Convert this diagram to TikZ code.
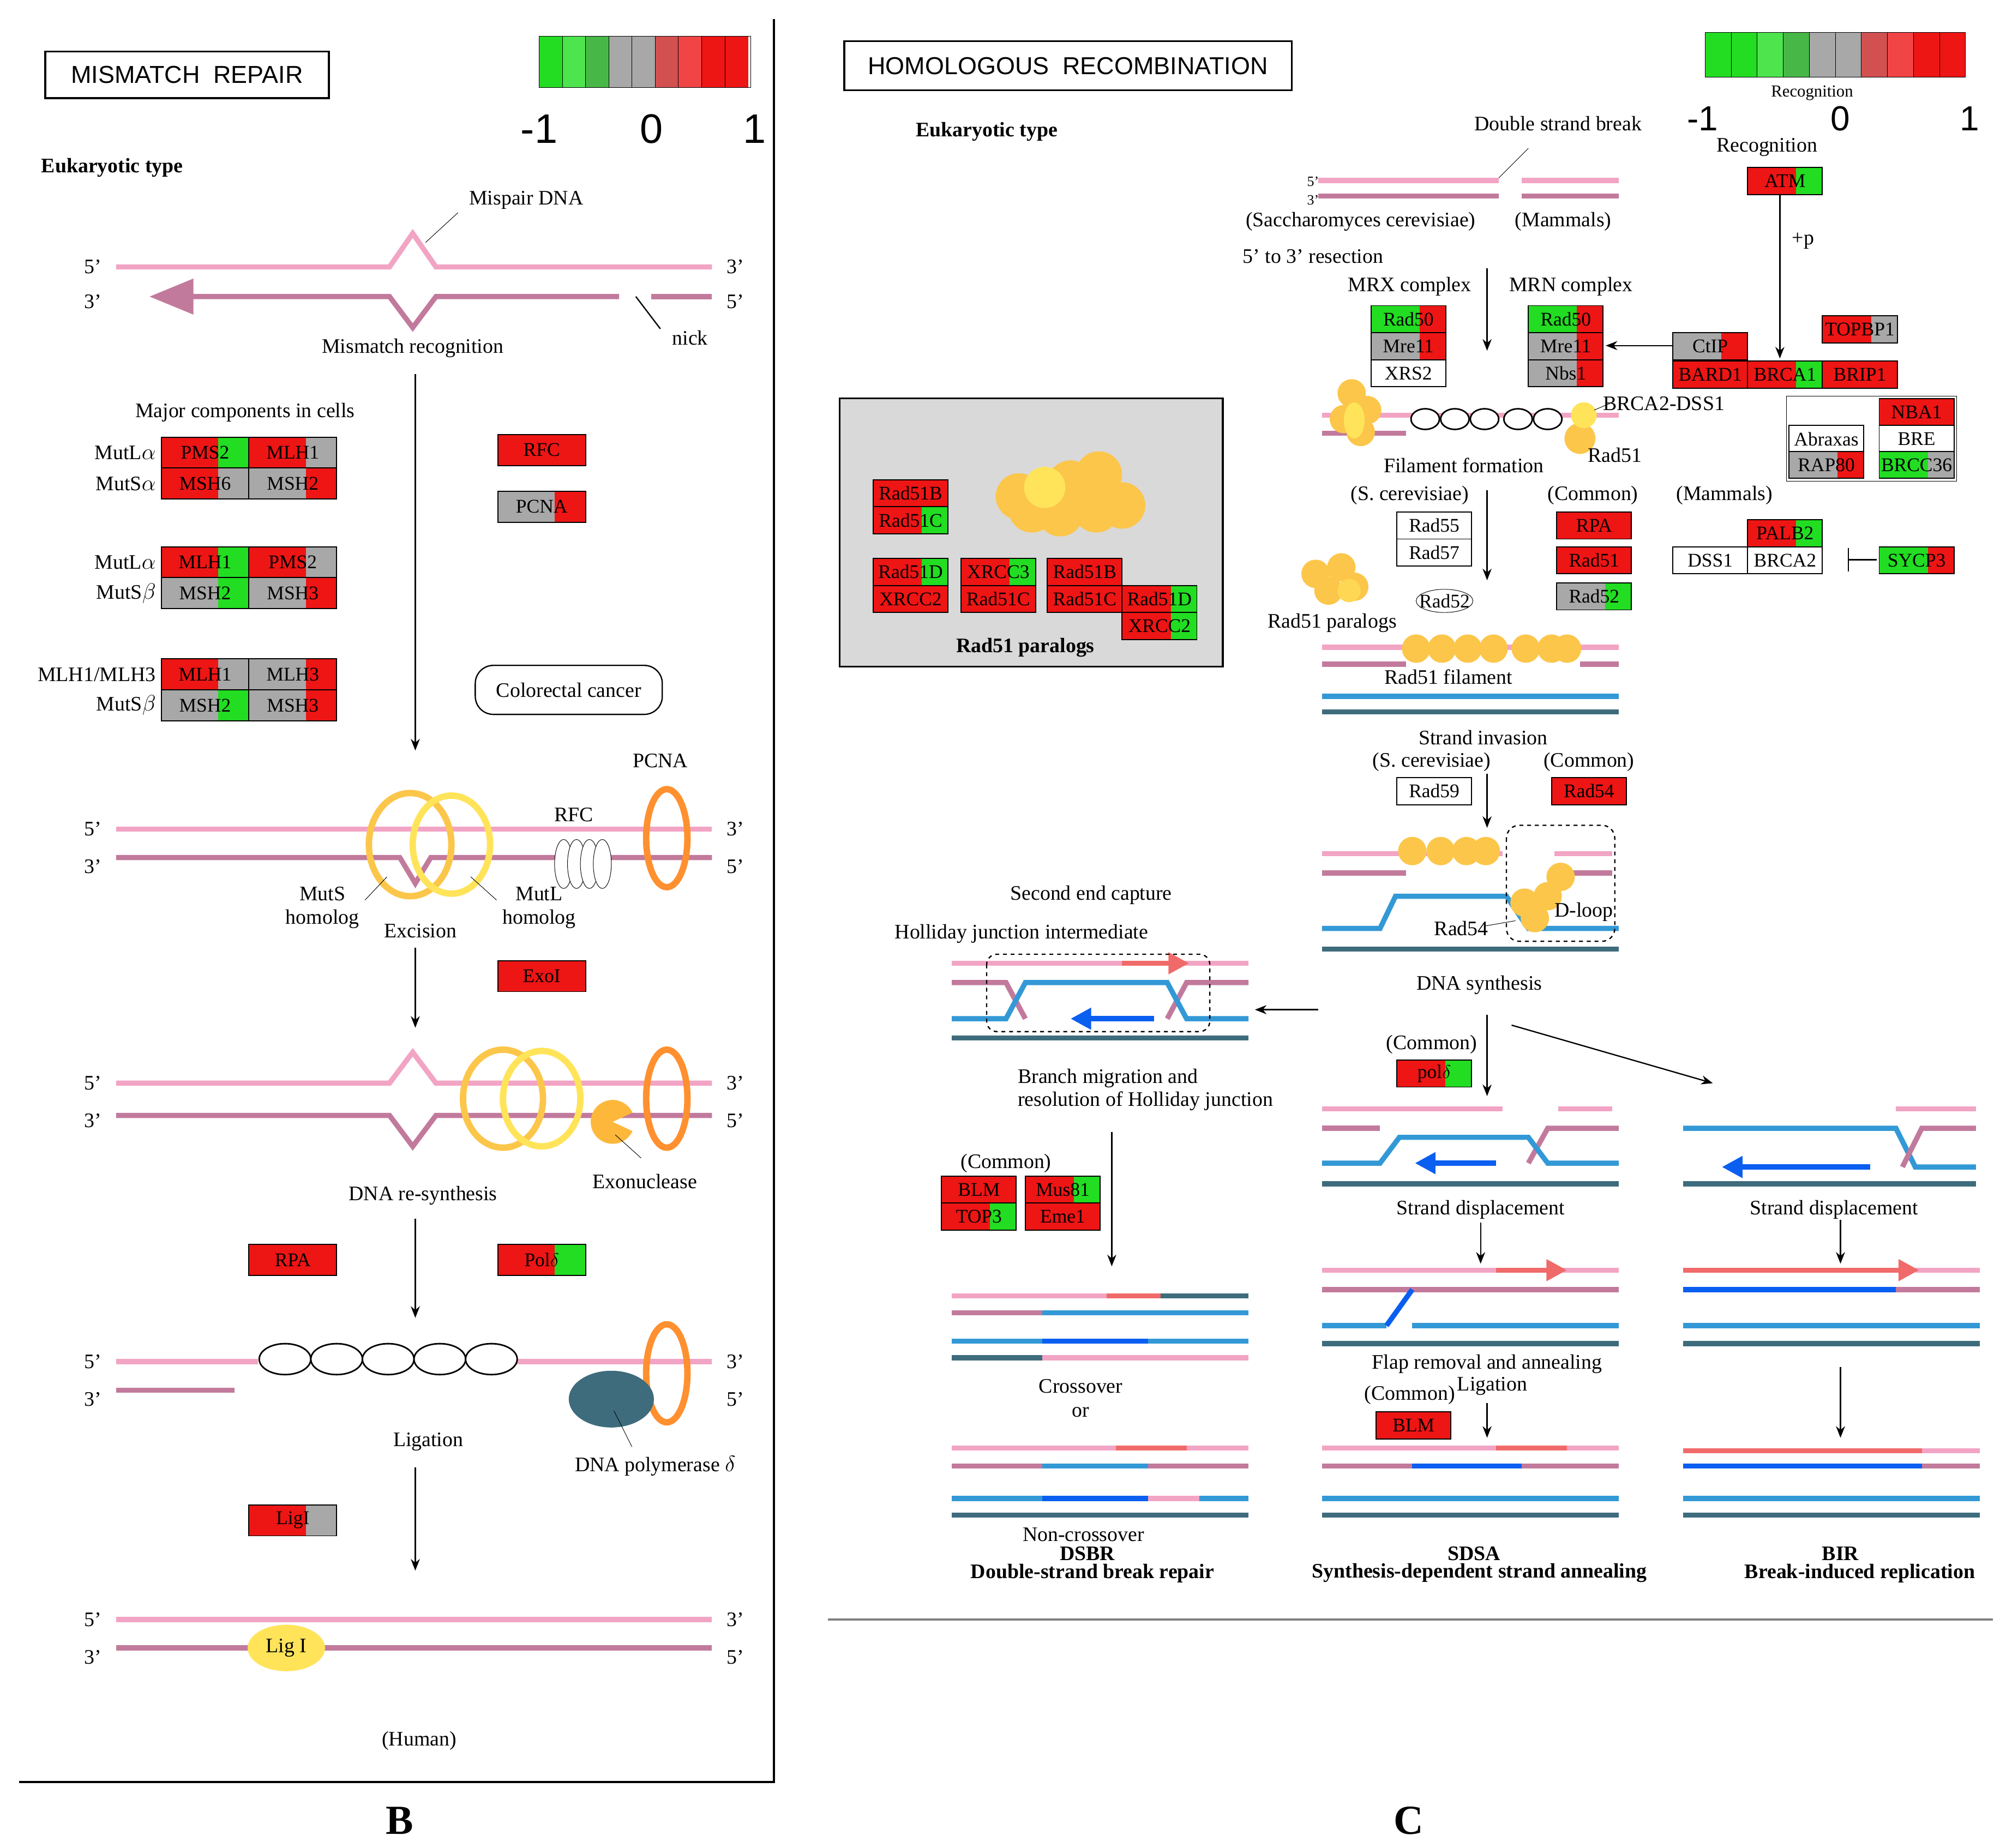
\documentclass[tikz,border=0pt]{standalone}
\usepackage{fontspec}
\setmainfont{Liberation Serif}
\newfontfamily\sff{Liberation Sans}
\usetikzlibrary{arrows.meta}
\definecolor{kr}{HTML}{EE1515}
\definecolor{kg}{HTML}{22DD22}
\definecolor{ky}{HTML}{A8A8A8}
\definecolor{pk}{HTML}{F2A4C4}
\definecolor{mv}{HTML}{C27A9C}
\definecolor{bl}{HTML}{3399D6}
\definecolor{dt}{HTML}{3E6C7C}
\definecolor{bb}{HTML}{0A5EF0}
\definecolor{ra}{HTML}{F06A6A}
\definecolor{yo}{HTML}{FCC64A}
\definecolor{ye}{HTML}{FFE45A}
\definecolor{org}{HTML}{FF9030}
\tikzset{
 lab/.style={font=\fontsize{16}{18}\selectfont,inner sep=1pt},
 glab/.style={font=\fontsize{15}{16}\selectfont,inner sep=0pt},
 blab/.style={font=\fontsize{16}{18}\selectfont\bfseries,inner sep=1pt},
 st/.style={line width=4pt},
 arr/.style={-{Stealth[length=9pt,width=7pt]},line width=1pt},
}
\newcommand\gene[7]{% x y w h label colA colB
 \fill[#6] (#1,#2) rectangle ++(#3*0.65,#4);
 \fill[#7] (#1+#3*0.65,#2) rectangle ++(#3*0.35,#4);
 \draw[line width=0.8pt] (#1,#2) rectangle ++(#3,#4);
 \node[glab] at (#1+#3/2,#2+#4/2) {#5};}
\newcommand\gl[5]{\gene{#1}{#2}{68}{24}{#3}{#4}{#5}}
\newcommand\gr[5]{\gene{#1}{#2}{58}{21}{#3}{#4}{#5}}
\newcommand\wb[3]{\draw[line width=0.8pt,fill=white] (#1,#2) rectangle ++(58,21); \node[glab] at (#1+29,#2+10.5) {#3};}
\newcommand\pends[2]{\node[lab] at (72,#1) {5'};\node[lab] at (72,#2) {3'};\node[lab] at (570,#1) {3'};\node[lab] at (570,#2) {5'};}
\begin{document}
\begin{tikzpicture}[x=1pt,y=-1pt]
\useasboundingbox (0,0) rectangle (1560,1433);
\fill[white] (0,0) rectangle (1560,1433);
% ---------- LEFT PANEL B
\draw[line width=1.5pt] (600,15) -- (600,1382) -- (15,1382);
\node[draw,line width=1.5pt,minimum width=220pt,minimum height=36pt,font=\sff\fontsize{19}{20}\selectfont] (t1) at (145,58) {MISMATCH\ \ REPAIR};
\foreach \c [count=\i] in {kg,kg!80!white,kg!60!gray,ky,ky,kr!60!ky,kr!80!white,kr,kr}{\fill[\c] (418+\i*18-18,28) rectangle ++(18,40);\draw (418+\i*18-18,28)--++(0,40);}
\draw (418,28) rectangle (582,68);
\node[font=\sff\fontsize{32}{34}\selectfont] at (418,100) {-1};
\node[font=\sff\fontsize{32}{34}\selectfont] at (505,100) {0};
\node[font=\sff\fontsize{32}{34}\selectfont] at (585,100) {1};
\node[blab] at (87,130) {Eukaryotic type};
% strand 1
\draw[st,pk] (90,207) -- (302,207) -- (320,181) -- (338,207) -- (552,207);
\draw[st,mv] (140,230) -- (302,230) -- (320,254) -- (338,230) -- (480,230);
\fill[mv] (116,230) -- (150,216) -- (150,244) -- cycle;
\draw[st,mv] (505,230) -- (552,230);
\draw[line width=1pt] (493,230) -- (512,255);
\pends{207}{234}
\node[lab] (mp) at (408,155) {Mispair DNA};
\draw (355,165) -- (330,188);
\node[lab] at (320,270) {Mismatch recognition};
\node[lab] at (535,262) {nick};
\node[lab] at (190,320) {Major components in cells};
\node[lab,anchor=east] at (122,351) {MutL$\alpha$};\node[lab,anchor=east] at (122,375) {MutS$\alpha$};
\gl{125}{339}{PMS2}{kr}{kg}\gl{193}{339}{MLH1}{kr}{ky}
\gl{125}{363}{MSH6}{kr}{ky}\gl{193}{363}{MSH2}{ky}{kr}
\node[lab,anchor=east] at (122,436) {MutL$\alpha$};\node[lab,anchor=east] at (122,460) {MutS$\beta$};
\gl{125}{424}{MLH1}{kr}{kg}\gl{193}{424}{PMS2}{kr}{ky}
\gl{125}{448}{MSH2}{ky}{kg}\gl{193}{448}{MSH3}{ky}{kr}
\node[lab,anchor=east] at (122,523) {MLH1/MLH3};\node[lab,anchor=east] at (122,547) {MutS$\beta$};
\gl{125}{511}{MLH1}{kr}{ky}\gl{193}{511}{MLH3}{ky}{kr}
\gl{125}{535}{MSH2}{ky}{kg}\gl{193}{535}{MSH3}{ky}{kr}
\gl{386}{337}{RFC}{kr}{kr}\gl{386}{381}{PCNA}{ky}{kr}
\node[draw,rounded corners=14pt,line width=1pt,minimum width=145pt,minimum height=38pt,lab] (cc) at (441,535) {Colorectal cancer};
\draw[arr] (322,290) -- (322,582);
% strand 2
\draw[st,pk] (90,643) -- (552,643);
\draw[st,mv] (90,665) -- (310,665) -- (322,685) -- (334,665) -- (552,665);
\draw[line width=5pt,yo] (318,655) ellipse (32 and 40);
\draw[line width=5pt,ye] (350,655) ellipse (30 and 38);
\foreach \x in {437,447,457,467} \draw[fill=white] (\x,670) ellipse (7 and 19);
\node[lab] at (445,632) {RFC};
\draw[line width=5pt,org] (517,650) ellipse (16 and 38);
\node[lab] at (512,590) {PCNA};
\pends{643}{672}
\node[lab,align=center] at (250,704) {MutS\\homolog};\draw (283,698) -- (300,680);
\node[lab,align=center] at (418,704) {MutL\\homolog};\draw (385,698) -- (365,680);
\node[lab] at (326,722) {Excision};
\gl{386}{745}{ExoI}{kr}{kr}
\draw[arr] (322,735) -- (322,797);
% strand 3
\draw[st,pk] (90,840) -- (302,840) -- (320,816) -- (338,840) -- (552,840);
\draw[st,mv] (90,865) -- (302,865) -- (320,889) -- (338,865) -- (552,865);
\draw[line width=5pt,yo] (390,852) ellipse (31 and 38);
\draw[line width=5pt,ye] (420,852) ellipse (30 and 37);
\draw[line width=5pt,org] (517,852) ellipse (16 and 38);
\fill[yo!80!orange] (475,870) -- ++(25:17) arc (25:335:17) -- cycle;
\node[lab] at (500,916) {Exonuclease};\draw (477,880) -- (497,898);
\pends{840}{869}
\node[lab] at (328,927) {DNA re-synthesis};
\gl{193}{965}{RPA}{kr}{kr}\gl{386}{965}{Pol$\delta$}{kr}{kg}
\draw[arr] (322,945) -- (322,1022);
% strand 4
\draw[st,pk] (90,1056) -- (200,1056); \draw[st,pk] (400,1056) -- (552,1056);
\foreach \x in {221,261,301,341,381} \draw[line width=1.2pt,fill=white] (\x,1054) ellipse (20 and 12);
\draw[st,mv] (90,1078) -- (182,1078);
\draw[line width=5pt,org] (517,1065) ellipse (16 and 38);
\fill[dt] (474,1085) ellipse (33 and 22);
\draw (476,1094) -- (490,1122);
\node[lab] at (508,1137) {DNA polymerase $\delta$};
\pends{1056}{1085}
\node[lab] at (332,1118) {Ligation};
\gl{193}{1167}{LigI}{kr}{ky}
\draw[arr] (322,1138) -- (322,1218);
% strand 5
\draw[st,pk] (90,1256) -- (552,1256);
\draw[st,mv] (90,1278) -- (552,1278);
\fill[ye] (222,1278) ellipse (30 and 18);
\node[lab] at (222,1278) {Lig I};
\pends{1256}{1285}
\node[lab] at (325,1350) {(Human)};
\node[font=\fontsize{32}{34}\selectfont\bfseries] at (310,1412) {B};
% ---------- RIGHT PANEL C
\draw[line width=1.5pt,gray] (642,1256) -- (1545,1256);
\node[draw,line width=1.5pt,minimum width=347pt,minimum height=38pt,font=\sff\fontsize{19}{20}\selectfont] (t2) at (828,51) {HOMOLOGOUS\ \ RECOMBINATION};
\foreach \c [count=\i] in {kg,kg,kg!80!white,kg!60!gray,ky,ky,kr!60!ky,kr!80!white,kr,kr}{\fill[\c] (1322+\i*20.2-20.2,25) rectangle ++(20.2,35);\draw (1322+\i*20.2-20.2,25)--++(0,35);}
\draw (1322,25) rectangle (1524,60);
\node[lab,font=\fontsize{13}{14}\selectfont] at (1405,72) {Recognition};
\node[font=\sff\fontsize{27}{29}\selectfont] at (1320,92) {-1};
\node[font=\sff\fontsize{27}{29}\selectfont] at (1427,92) {0};
\node[font=\sff\fontsize{27}{29}\selectfont] at (1527,92) {1};
\node[blab] at (765,102) {Eukaryotic type};
\node[lab] at (1208,96) {Double strand break};
\draw (1185,115) -- (1162,138);
\draw[st,pk] (1022,140) -- (1162,140); \draw[st,mv] (1022,152) -- (1162,152);
\draw[st,pk] (1180,140) -- (1255,140); \draw[st,mv] (1180,152) -- (1255,152);
\node[lab,font=\fontsize{11}{11}\selectfont] at (1018,141) {5'};\node[lab,font=\fontsize{11}{11}\selectfont] at (1018,155) {3'};
\node[lab] at (1055,172) {(Saccharomyces cerevisiae)};
\node[lab] at (1212,172) {(Mammals)};
\node[lab] at (1018,199) {5' to 3' resection};
\node[lab] at (1093,222) {MRX complex};\node[lab] at (1218,222) {MRN complex};
\gr{1063}{237}{Rad50}{kg}{kr}\gr{1063}{258}{Mre11}{ky}{kr}\wb{1063}{279}{XRS2}
\gr{1185}{237}{Rad50}{kg}{kr}\gr{1185}{258}{Mre11}{ky}{kr}\gr{1185}{279}{Nbs1}{ky}{kr}
\draw[arr] (1153,208) -- (1153,272);
\draw[arr] (1297,268) -- (1245,268);
\node[lab] at (1370,114) {Recognition};
\gr{1355}{130}{ATM}{kr}{kg}
\node[lab] at (1398,187) {+p};
\draw[arr] (1380,151) -- (1380,278);
\gr{1297}{258}{CtIP}{ky}{kr}\gr{1413}{245}{TOPBP1}{kr}{ky}
\gr{1297}{280}{BARD1}{kr}{kr}\gr{1355}{280}{BRCA1}{kr}{kg}\gr{1413}{280}{BRIP1}{kr}{kr}
\draw (1385,307) rectangle (1517,373);
\gr{1457}{309}{NBA1}{kr}{kr}\wb{1387}{330}{Abraxas}\wb{1457}{330}{BRE}
\gr{1387}{350}{RAP80}{ky}{kr}\gr{1457}{350}{BRCC36}{kg}{ky}
\node[lab] at (1337,384) {(Mammals)};
\gr{1355}{403}{PALB2}{kr}{kg}\wb{1297}{424}{DSS1}\wb{1355}{424}{BRCA2}
\gr{1457}{424}{SYCP3}{kg}{kr}
\draw[line width=1pt] (1433,434) -- (1455,434); \draw[line width=1pt] (1433,425) -- (1433,443);
% RPA
\draw[st,pk] (1025,322) -- (1255,322); \draw[st,mv] (1025,336) -- (1090,336);
\foreach \x in {1105,1128,1151,1177,1200} \draw[line width=1.2pt,fill=white] (\x,325) ellipse (11 and 8);
\foreach \p in {(1048,305),(1060,318),(1042,325),(1055,335)} \fill[yo] \p circle (11);
\fill[ye] (1050,326) ellipse (8 and 14);
\fill[yo] (1225,340) circle (12); \fill[ye] (1228,322) circle (10);
\node[lab] at (1290,313) {BRCA2-DSS1};\draw (1248,313) -- (1236,318);
\node[lab] at (1252,353) {Rad51};
\node[lab] at (1135,361) {Filament formation};
\node[lab] at (1093,384) {(S. cerevisiae)};\node[lab] at (1235,384) {(Common)};
\wb{1083}{397}{Rad55}\wb{1083}{418}{Rad57}
\gr{1207}{397}{RPA}{kr}{kr}\gr{1207}{424}{Rad51}{kr}{kr}\gr{1207}{452}{Rad52}{ky}{kg}
\draw[arr] (1153,380) -- (1153,450);
\draw (1120,466) ellipse (22 and 9); \node[glab] at (1120,466) {Rad52};
\foreach \p in {(1020,445),(1040,440),(1030,458),(1050,455)} \fill[yo] \p circle (11);
\fill[ye!60!yo] (1046,458) circle (9);
\node[lab] at (1033,483) {Rad51 paralogs};
\draw[st,pk] (1025,502) -- (1255,502); \draw[st,mv] (1025,515) -- (1090,515);\draw[st,mv] (1225,515) -- (1255,515);
\draw[st,bl] (1025,540) -- (1255,540); \draw[st,dt] (1025,552) -- (1255,552);
\foreach \x in {1098,1118,1138,1158,1183,1203,1215} \fill[yo] (\x,503) circle (11);
\node[lab] at (1123,525) {Rad51 filament};
% paralogs box
\draw[line width=1.5pt,fill=gray!30] (651,309) rectangle (948,517);
\gr{677}{372}{Rad51B}{kr}{kr}\gr{677}{393}{Rad51C}{kr}{kg}
\gr{677}{433}{Rad51D}{kr}{kg}\gr{677}{454}{XRCC2}{kr}{kr}
\gr{745}{433}{XRCC3}{kr}{kg}\gr{745}{454}{Rad51C}{kr}{kr}
\gr{812}{433}{Rad51B}{kr}{kr}\gr{812}{454}{Rad51C}{kr}{kr}
\gr{870}{454}{Rad51D}{kr}{kg}\gr{870}{475}{XRCC2}{kr}{kg}
\foreach \p in {(790,385),(830,375),(852,368),(870,392),(850,395),(800,395),(822,398)} \fill[yo] \p circle (18);
\fill[ye] (810,378) circle (16);
\node[blab] at (795,502) {Rad51 paralogs};
% strand invasion
\node[lab] at (1150,572) {Strand invasion};
\node[lab] at (1110,591) {(S. cerevisiae)};\node[lab] at (1232,591) {(Common)};
\wb{1083}{603}{Rad59}\gr{1203}{603}{Rad54}{kr}{kr}
\draw[arr] (1153,600) -- (1153,642);
\draw[st,pk] (1025,662) -- (1165,662); \draw[st,mv] (1025,677) -- (1090,677);
\draw[st,pk] (1205,662) -- (1250,662); \draw[st,mv] (1205,677) -- (1250,677);
\draw[st,bl] (1025,720) -- (1070,720) -- (1082,695) -- (1168,695) -- (1185,720) -- (1255,720);
\draw[st,dt] (1025,736) -- (1255,736);
\foreach \x in {1095,1117,1137,1152} \fill[yo] (\x,660) circle (11);
\foreach \p in {(1190,712),(1200,695),(1210,680),(1182,700)} \fill[yo] \p circle (11);
\draw[dashed,line width=1pt,rounded corners=10pt] (1168,640) rectangle (1252,730);
\node[lab] at (1228,707) {D-loop};
\node[lab] at (1133,720) {Rad54};\draw (1152,718) -- (1175,714);
% DNA synthesis
\node[lab] at (1147,764) {DNA synthesis};
\draw[arr] (1022,783) -- (973,783);
\draw[arr] (1153,787) -- (1153,850);
\draw[arr] (1172,795) -- (1328,840);
\node[lab] at (1110,810) {(Common)};
\gr{1083}{822}{pol$\delta$}{kr}{kg}
% Holliday
\node[lab] at (846,694) {Second end capture};
\node[lab] at (792,724) {Holliday junction intermediate};
\draw[st,pk] (738,747) -- (968,747);
\draw[st,mv] (738,762) -- (780,762) -- (795,790) ;\draw[st,mv] (968,762) -- (920,762) -- (905,790);
\draw[st,bl] (738,790) -- (780,790) -- (795,762) -- (905,762) -- (920,790) -- (968,790);
\draw[st,dt] (738,805) -- (968,805);
\draw[ra,line width=4pt,-{Triangle[length=16pt,width=16pt]}] (870,747) -- (922,747);
\draw[bb,line width=4pt,-{Triangle[length=16pt,width=16pt]}] (895,790) -- (830,790);
\draw[dashed,line width=1pt,rounded corners=8pt] (765,740) rectangle (938,800);
\node[lab,align=left,anchor=west] at (788,845) {Branch migration and\\resolution of Holliday junction};
\draw[arr] (862,878) -- (862,982);
\node[lab] at (780,902) {(Common)};
\gr{730}{912}{BLM}{kr}{kr}\gr{730}{933}{TOP3}{kr}{kg}
\gr{795}{912}{Mus81}{kr}{kg}\gr{795}{933}{Eme1}{kr}{kr}
% DSBR
\draw[st,pk] (738,1005) -- (858,1005);\draw[st,ra] (858,1005) -- (900,1005);\draw[st,dt] (900,1005) -- (968,1005);
\draw[st,mv] (738,1018) -- (808,1018);\draw[st,bl] (808,1018) -- (968,1018);
\draw[st,bl] (738,1040) -- (808,1040);\draw[st,bb] (808,1040) -- (890,1040);\draw[st,bl] (890,1040) -- (968,1040);
\draw[st,dt] (738,1053) -- (808,1053);\draw[st,pk] (808,1053) -- (968,1053);
\node[lab] at (838,1075) {Crossover};\node[lab] at (838,1095) {or};
\draw[st,pk] (738,1123) -- (865,1123);\draw[st,ra] (865,1123) -- (920,1123);\draw[st,pk] (920,1123) -- (968,1123);
\draw[st,mv] (738,1137) -- (808,1137);\draw[st,bl] (808,1137) -- (890,1137);\draw[st,mv] (890,1137) -- (968,1137);
\draw[st,bl] (738,1162) -- (808,1162);\draw[st,bb] (808,1162) -- (890,1162);\draw[st,pk] (890,1162) -- (930,1162);\draw[st,bl] (930,1162) -- (968,1162);
\draw[st,dt] (738,1175) -- (968,1175);
\node[lab] at (840,1190) {Non-crossover};
\node[blab] at (843,1205) {DSBR};
\node[blab] at (847,1220) {Double-strand break repair};
% SDSA
\draw[st,pk] (1025,860) -- (1165,860);\draw[st,pk] (1208,860) -- (1250,860);
\draw[st,mv] (1025,875) -- (1070,875); \draw[st,mv] (1255,875) -- (1200,875) -- (1185,902);
\draw[st,bl] (1025,902) -- (1070,902) -- (1085,882) -- (1185,882) -- (1200,902) -- (1255,902);
\draw[bb,line width=4pt,-{Triangle[length=16pt,width=16pt]}] (1160,902) -- (1097,902);
\draw[st,dt] (1025,918) -- (1255,918);
\node[lab] at (1148,938) {Strand displacement};
\draw[arr] (1148,948) -- (1148,980);
\draw[st,pk] (1025,985) -- (1160,985);\draw[st,pk] (1210,985) -- (1255,985);
\draw[ra,line width=4pt,-{Triangle[length=16pt,width=16pt]}] (1160,985) -- (1215,985);
\draw[st,mv] (1025,1000) -- (1255,1000);
\draw[st,bl] (1025,1028) -- (1075,1028);\draw[st,bb] (1075,1028) -- (1095,1000);\draw[st,bl] (1095,1028) -- (1255,1028);
\draw[st,dt] (1025,1042) -- (1255,1042);
\node[lab] at (1153,1058) {Flap removal and annealing};
\node[lab] at (1157,1075) {Ligation};
\node[lab] at (1093,1082) {(Common)};
\gr{1067}{1095}{BLM}{kr}{kr}
\draw[arr] (1153,1088) -- (1153,1115);
\draw[st,pk] (1025,1123) -- (1160,1123);\draw[st,ra] (1160,1123) -- (1215,1123);\draw[st,pk] (1215,1123) -- (1255,1123);
\draw[st,mv] (1025,1137) -- (1095,1137);\draw[st,bb] (1095,1137) -- (1180,1137);\draw[st,mv] (1180,1137) -- (1255,1137);
\draw[st,bl] (1025,1162) -- (1255,1162);
\draw[st,dt] (1025,1175) -- (1255,1175);
\node[blab] at (1143,1205) {SDSA};
\node[blab] at (1147,1220) {Synthesis-dependent strand annealing};
% BIR
\draw[st,pk] (1470,860) -- (1532,860);
\draw[st,bl] (1305,875) -- (1470,875) -- (1485,905) -- (1532,905);
\draw[st,mv] (1532,875) -- (1490,875) -- (1475,905);
\draw[bb,line width=4pt,-{Triangle[length=16pt,width=16pt]}] (1450,905) -- (1335,905);
\draw[st,dt] (1305,918) -- (1532,918);
\node[lab] at (1422,938) {Strand displacement};
\draw[arr] (1427,946) -- (1427,980);
\draw[st,ra] (1305,985) -- (1470,985);\draw[st,pk] (1485,985) -- (1535,985);
\draw[ra,line width=4pt,-{Triangle[length=16pt,width=16pt]}] (1440,985) -- (1488,985);
\draw[st,bb] (1305,1000) -- (1470,1000);\draw[st,mv] (1470,1000) -- (1535,1000);
\draw[st,bl] (1305,1028) -- (1535,1028);
\draw[st,dt] (1305,1042) -- (1535,1042);
\draw[arr] (1427,1060) -- (1427,1115);
\draw[st,ra] (1305,1125) -- (1490,1125);\draw[st,pk] (1490,1125) -- (1535,1125);
\draw[st,bb] (1305,1137) -- (1490,1137);\draw[st,mv] (1490,1137) -- (1535,1137);
\draw[st,bl] (1305,1162) -- (1535,1162);
\draw[st,dt] (1305,1175) -- (1535,1175);
\node[blab] at (1427,1205) {BIR};
\node[blab] at (1442,1220) {Break-induced replication};
\node[font=\fontsize{32}{34}\selectfont\bfseries] at (1092,1412) {C};
\end{tikzpicture}
\end{document}
